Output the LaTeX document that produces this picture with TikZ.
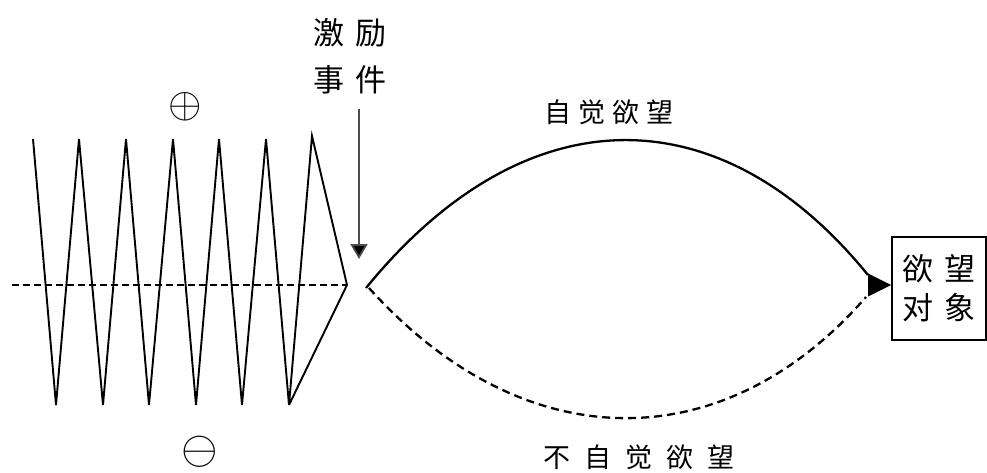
\documentclass[tikz,border=0pt]{standalone}
\usepackage{fontspec}
\usepackage{graphicx}
\setmainfont{Noto Sans CJK SC}
\usetikzlibrary{arrows.meta,calc}
\begin{document}
\begin{tikzpicture}[x=1pt,y=-1pt,
  zig/.style={line width=1.9pt, line join=miter},
  axisline/.style={line width=1.9pt, dash pattern=on 7pt off 4pt},
  conscious/.style={line width=2.3pt},
  unconscious/.style={line width=2.3pt, dash pattern=on 8pt off 5pt},
  lbl/.style={inner sep=0pt, font=\fontsize{27pt}{32pt}\selectfont},
  big/.style={inner sep=0pt, align=center, font=\fontsize{31pt}{47pt}\selectfont},
  objbox/.style={draw, line width=1.6pt, minimum width=94pt, minimum height=103pt, inner sep=0pt, align=center, font=\fontsize{31pt}{39pt}\selectfont},
  sym/.style={inner sep=0pt},
  stim/.style={line width=1.8pt, draw=black!70, -{Triangle[width=17pt,length=15pt,fill=black]}}]
\useasboundingbox (0,0) rectangle (987,473);

% oscillation
\draw[axisline] (12,285) -- (347,285);
\draw[zig] (33,139) -- (56,405) -- (79,139) -- (103,405) -- (126,139) -- (149,405)
  -- (173,139) -- (196,405) -- (219,139) -- (242,405) -- (266,139) -- (289,405)
  -- (312,136) -- (347,285) -- (289,405);

\node[sym] (plus) at (185,107) {\scalebox{4.3}{$\oplus$}};
\node[sym] (minus) at (200,452) {\scalebox{4.7}{$\ominus$}};

% stimulus
\node[big] (ev) at (350,56.5) {激\hspace{11pt}励\\事\hspace{11pt}件};
\coordinate (hit) at (359,259);
\draw[stim] ($(ev.south -| hit)+(0,14)$) -- (hit);

% object box
\node[objbox] (obj) at (939,288.5) {欲\hspace{11pt}望\\对\hspace{11pt}象};

% desire curves
\coordinate (s1) at (366,288);
\coordinate (s2) at (369,288);
\coordinate (e1) at (868,275);
\coordinate (e2) at (866,297);
\draw[conscious] (s1) .. controls (525,93) and (720,93) .. (e1);
\draw[unconscious] (s2) .. controls (524,460) and (724,460) .. (e2);
\fill ($(obj.west)+(0,-3.5)$) -- ++(-23,-11.5) -- ++(0,23) -- cycle;

\node[lbl] (c) at (609,112) {自\hspace{7pt}觉\hspace{7pt}欲\hspace{7pt}望};
\node[lbl] (u) at (639,457) {不\hspace{14pt}自\hspace{14pt}觉\hspace{14pt}欲\hspace{14pt}望};
\end{tikzpicture}
\end{document}
